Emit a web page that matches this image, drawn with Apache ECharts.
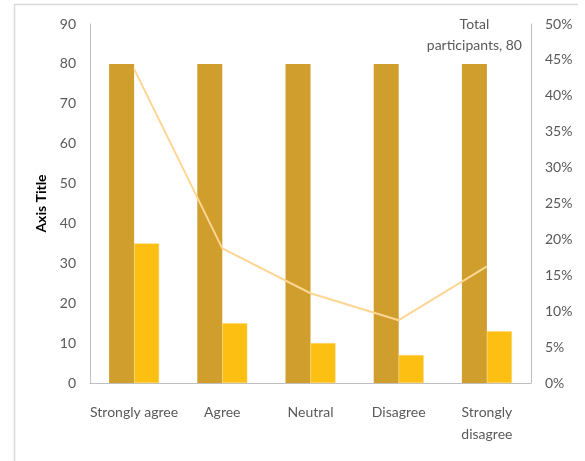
<!DOCTYPE html>
<html>
<head>
<meta charset="utf-8">
<script src="https://cdn.jsdelivr.net/npm/echarts@6/dist/echarts.min.js"></script>
<style>
  html, body { margin: 0; padding: 0; background: #fff; }
  #chart { width: 585px; height: 461px; }
</style>
</head>
<body>
<div id="chart"></div>
<script>
// Survey answers per category
const categories = ['Strongly agree', 'Agree', 'Neutral', 'Disagree', 'Strongly\ndisagree'];
const totalParticipants = [80, 80, 80, 80, 80];
const responses = [35, 15, 10, 7, 13];
const responseShare = [43.75, 18.75, 12.5, 8.75, 16.25];

const countTicks = { min: 0, max: 90, interval: 10 };
const shareTicks = { min: 0, max: 50, interval: 5 };

const textColor = '#595959';
const fontFamily = 'Lato, "Open Sans", sans-serif';

const chart = echarts.init(document.getElementById('chart'));

const totalData = totalParticipants.map((v, i) =>
  i === totalParticipants.length - 1
    ? { value: v, label: { show: true } }
    : v
);

chart.setOption({
  animation: false,
  textStyle: { fontFamily: fontFamily },
  graphic: [
    { type: 'line', shape: { x1: 14, y1: 4.5, x2: 578, y2: 4.5 }, style: { stroke: '#d9d9d9', lineWidth: 1.5 }, silent: true },
    { type: 'line', shape: { x1: 14.5, y1: 4, x2: 14.5, y2: 461 }, style: { stroke: '#d9d9d9', lineWidth: 1.5 }, silent: true }
  ],
  grid: { left: 90, right: 54, top: 24, bottom: 78 },
  xAxis: {
    type: 'category',
    data: categories,
    axisLine: { lineStyle: { color: '#bfbfbf', width: 1 } },
    axisTick: { show: false },
    axisLabel: { color: textColor, fontSize: 14, margin: 18, lineHeight: 22, interval: 0 }
  },
  yAxis: [
    {
      type: 'value',
      min: countTicks.min, max: countTicks.max, interval: countTicks.interval,
      name: 'Axis Title',
      nameLocation: 'middle',
      nameGap: 42,
      nameRotate: 90,
      nameTextStyle: { color: '#000', fontWeight: 'bold', fontSize: 14 },
      axisLine: { show: true, lineStyle: { color: '#bfbfbf' } },
      axisTick: { show: false },
      splitLine: { show: false },
      axisLabel: { color: textColor, fontSize: 14, margin: 14 }
    },
    {
      type: 'value',
      min: shareTicks.min, max: shareTicks.max, interval: shareTicks.interval,
      axisLine: { show: true, lineStyle: { color: '#bfbfbf' } },
      axisTick: { show: false },
      splitLine: { show: false },
      axisLabel: { color: textColor, fontSize: 14, margin: 14, formatter: '{value}%' }
    }
  ],
  series: [
    {
      name: 'Total participants',
      type: 'bar',
      data: totalData,
      barWidth: 25,
      barGap: '0%',
      itemStyle: { color: '#cf9e2c' },
      label: {
        show: false,
        position: 'top',
        distance: 8,
        color: textColor,
        fontSize: 14,
        lineHeight: 21,
        align: 'center',
        formatter: 'Total\nparticipants, {c}'
      }
    },
    {
      name: 'Responses',
      type: 'bar',
      data: responses,
      barWidth: 25,
      itemStyle: { color: '#fdbf12', borderColor: '#fdd46a', borderWidth: 0.5 }
    },
    {
      name: 'Share',
      type: 'line',
      yAxisIndex: 1,
      data: responseShare,
      symbol: 'none',
      lineStyle: { color: '#ffd593', width: 2 },
      z: 5
    }
  ]
});
</script>
</body>
</html>
